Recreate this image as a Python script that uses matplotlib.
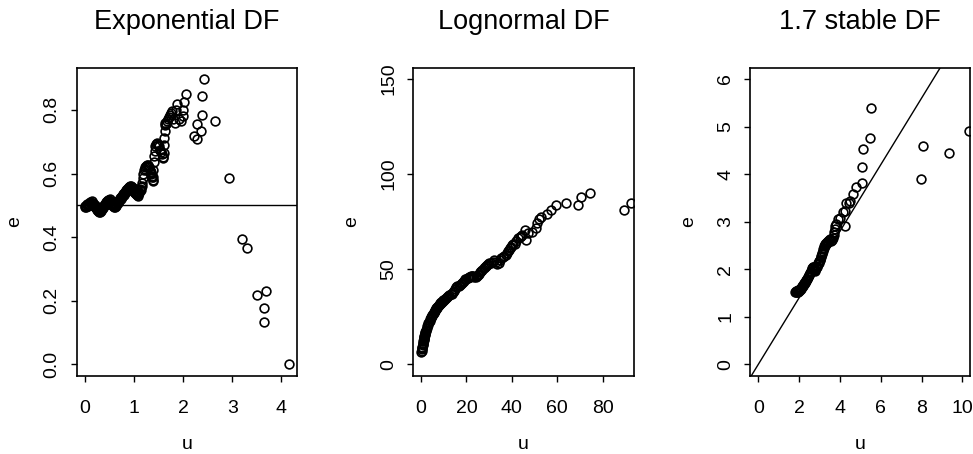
import matplotlib
matplotlib.use('Agg')
import matplotlib.pyplot as plt

plt.rcParams['font.family'] = ['Liberation Sans', 'DejaVu Sans']

# Exponential DF: mean excess points (u, e)
exp_u = [0.00, 0.01, 0.02, 0.03, 0.04, 0.05, 0.06, 0.07, 0.08, 0.09, 0.10,
         0.11, 0.12, 0.13, 0.14, 0.15, 0.16, 0.17, 0.18, 0.19, 0.20,
         0.21, 0.22, 0.23, 0.24, 0.25, 0.26, 0.27, 0.28, 0.29, 0.30,
         0.31, 0.32, 0.33, 0.34, 0.35, 0.36, 0.37, 0.38, 0.39, 0.40,
         0.41, 0.42, 0.43, 0.44, 0.45, 0.46, 0.47, 0.48, 0.49, 0.50,
         0.51, 0.52, 0.53, 0.54, 0.55, 0.56, 0.57, 0.58, 0.59, 0.60,
         0.61, 0.62, 0.63, 0.64, 0.65, 0.66, 0.67, 0.68, 0.69, 0.70,
         0.71, 0.72, 0.73, 0.74, 0.75, 0.76, 0.77, 0.78, 0.79, 0.80,
         0.81, 0.82, 0.83, 0.84, 0.85, 0.86, 0.87, 0.88, 0.89, 0.90,
         0.91, 0.92, 0.93, 0.94, 0.95, 0.96, 0.97, 0.98, 0.99, 1.00,
         1.01, 1.02, 1.03, 1.04, 1.05, 1.06, 1.07, 1.08, 1.09, 1.10,
         1.11, 1.12, 1.13, 1.14, 1.15, 1.16, 1.17, 1.18, 1.19, 1.20,
         1.215, 1.23, 1.245, 1.26, 1.275, 1.29, 1.305, 1.32, 1.335, 1.35,
         1.36, 1.37, 1.38, 1.385, 1.39, 1.395, 1.40, 1.41, 1.42, 1.43,
         1.44, 1.46, 1.48, 1.50, 1.52, 1.54, 1.56, 1.58, 1.59, 1.60,
         1.61, 1.615, 1.62, 1.63, 1.64, 1.66, 1.68, 1.70, 1.72, 1.74,
         1.76, 1.78, 1.80, 1.83, 1.85, 1.87, 1.92, 1.96, 1.99, 2.00,
         2.02, 2.05, 2.22, 2.29, 2.29, 2.37, 2.38, 2.39, 2.43, 2.65,
         2.93, 3.19, 3.30, 3.51, 3.69, 3.65, 3.65, 4.15]
exp_e = [0.495, 0.497, 0.499, 0.494, 0.500, 0.503, 0.498, 0.502, 0.505, 0.500, 0.507,
         0.510, 0.504, 0.508, 0.512, 0.506, 0.503, 0.508, 0.500, 0.497, 0.502,
         0.495, 0.490, 0.494, 0.487, 0.484, 0.489, 0.481, 0.485, 0.479, 0.483,
         0.478, 0.486, 0.482, 0.490, 0.487, 0.495, 0.492, 0.500, 0.497, 0.505,
         0.502, 0.510, 0.507, 0.513, 0.509, 0.516, 0.512, 0.518, 0.514, 0.519,
         0.513, 0.510, 0.505, 0.508, 0.501, 0.504, 0.497, 0.500, 0.495, 0.498,
         0.494, 0.499, 0.502, 0.498, 0.506, 0.510, 0.507, 0.514, 0.518, 0.515,
         0.521, 0.524, 0.520, 0.527, 0.530, 0.526, 0.533, 0.536, 0.532, 0.539,
         0.542, 0.538, 0.545, 0.548, 0.544, 0.551, 0.554, 0.550, 0.556, 0.559,
         0.555, 0.561, 0.558, 0.562, 0.557, 0.552, 0.548, 0.553, 0.545, 0.541,
         0.545, 0.538, 0.535, 0.540, 0.532, 0.536, 0.530, 0.534, 0.538, 0.543,
         0.540, 0.547, 0.551, 0.548, 0.556, 0.562, 0.570, 0.585, 0.600, 0.612,
         0.620, 0.615, 0.624, 0.628, 0.622, 0.626, 0.619, 0.612, 0.605, 0.598,
         0.592, 0.588, 0.578, 0.575, 0.590, 0.612, 0.635, 0.655, 0.672, 0.685,
         0.693, 0.697, 0.690, 0.686, 0.675, 0.668, 0.660, 0.652, 0.648, 0.665,
         0.690, 0.712, 0.735, 0.752, 0.760, 0.755, 0.765, 0.770, 0.778, 0.785,
         0.790, 0.797, 0.770, 0.758, 0.800, 0.818, 0.770, 0.765, 0.780, 0.800,
         0.826, 0.850, 0.718, 0.709, 0.755, 0.735, 0.783, 0.844, 0.897, 0.766,
         0.585, 0.394, 0.365, 0.217, 0.231, 0.177, 0.134, 0.000]

# Lognormal DF
log_u = [0.2, 0.3, 0.4, 0.5, 0.6, 0.7, 0.8, 0.9, 1.0, 1.1,
         1.2, 1.3, 1.4, 1.5, 1.6, 1.7, 1.8, 1.9, 2.0,
         2.25, 2.5, 2.75, 3.0, 3.25, 3.5, 3.75, 4.0, 4.25, 4.5,
         4.75, 5.0, 5.25, 5.5, 5.75, 6.0, 6.25, 6.5, 6.75, 7.0,
         7.25, 7.5, 7.75, 8.0, 8.25, 8.5, 8.75, 9.0, 9.25, 9.5,
         9.75, 10.0,
         10.5, 11.0, 11.5, 12.0, 12.5, 13.0, 13.5, 14.0, 14.5, 15.0,
         15.5, 16.0, 16.5, 17.0, 17.5, 18.0, 18.5, 19.0, 19.5, 20.0,
         20.5, 21.0, 21.5, 22.0, 22.5, 23.0, 23.5, 24.0, 24.5, 25.0,
         25.5, 26.0, 26.5, 27.0, 27.5, 28.0, 28.5, 29.0, 29.5, 30.0,
         30.8, 31.5, 32.2, 33.0, 33.6, 34.2, 34.7, 35.3, 36.0, 36.6,
         37.2, 37.7, 38.2, 38.6, 39.1, 39.6, 40.1, 40.6, 41.3, 42.0,
         42.8, 43.5, 44.2, 44.6, 45.7, 46.4, 47.0, 48.7, 50.5, 50.9,
         52.0, 53.0, 55.3, 57.1, 59.6, 63.6, 69.2, 70.5, 74.4, 89.5, 92.3]
log_e = [6.5, 7.2, 7.9, 8.6, 9.3, 10.0, 10.7, 11.3, 12.0, 12.6,
         13.2, 13.8, 14.3, 14.9, 15.4, 15.9, 16.4, 16.9, 17.3,
         18.2, 19.1, 19.9, 20.7, 21.5, 22.2, 22.9, 23.6, 24.2, 24.8,
         25.4, 26.0, 26.5, 27.0, 27.5, 28.0, 28.5, 29.0, 29.4, 29.8,
         30.2, 30.6, 31.0, 31.4, 31.8, 32.1, 32.4, 32.7, 33.0, 33.3,
         33.6, 33.9,
         34.4, 34.9, 35.4, 35.8, 36.2, 36.7, 37.2, 37.8, 38.6, 39.6,
         40.5, 41.0, 41.4, 41.9, 42.4, 42.9, 43.4, 44.0, 44.6, 45.1,
         45.5, 45.8, 46.0, 46.2, 46.3, 46.2, 46.0, 45.8, 46.2, 46.8,
         47.5, 48.4, 49.2, 49.8, 50.4, 51.0, 51.6, 52.1, 52.6, 53.0,
         53.5, 54.0, 54.6, 53.8, 52.5, 53.4, 54.8, 55.7, 56.3, 57.0,
         57.6, 58.3, 59.5, 60.3, 61.0, 61.8, 62.5, 63.0, 63.5, 64.6,
         66.2, 66.8, 67.5, 68.0, 70.6, 65.5, 69.0, 69.7, 71.5, 74.5,
         76.2, 77.6, 78.9, 81.1, 83.8, 84.6, 83.9, 88.1, 89.9, 81.1, 84.6]

# 1.7 stable DF
stab_u = [1.800, 1.825, 1.850, 1.875, 1.900, 1.925, 1.950, 1.975, 2.000, 2.025,
          2.050, 2.075, 2.100, 2.125, 2.150, 2.175, 2.200, 2.225, 2.250, 2.275,
          2.300, 2.325, 2.350, 2.375, 2.400, 2.425, 2.450, 2.475, 2.500, 2.525,
          2.550, 2.575, 2.600, 2.625, 2.650, 2.675, 2.700, 2.725, 2.750, 2.775,
          2.800, 2.825, 2.850, 2.875, 2.900, 2.925, 2.950, 2.975, 3.000, 3.025,
          3.050, 3.075, 3.100, 3.125, 3.150, 3.175, 3.200, 3.225, 3.250, 3.275,
          3.300, 3.325, 3.350, 3.375, 3.400,
          3.45, 3.50, 3.55, 3.60, 3.65, 3.70, 3.72, 3.75, 3.78, 3.82,
          3.88, 4.01, 4.17, 4.26, 4.26, 4.29, 4.42, 4.50, 4.63, 4.78,
          5.08, 5.09, 5.15, 5.48, 5.52, 7.95, 8.05, 9.33, 10.33]
stab_e = [1.52, 1.55, 1.51, 1.54, 1.52, 1.56, 1.53, 1.57, 1.54, 1.58,
          1.56, 1.61, 1.59, 1.64, 1.62, 1.67, 1.65, 1.70, 1.69, 1.74,
          1.72, 1.77, 1.76, 1.80, 1.79, 1.84, 1.83, 1.88, 1.87, 1.92,
          1.91, 1.96, 1.95, 2.00, 2.02, 2.05, 2.04, 2.01, 1.98, 1.97,
          1.99, 2.02, 2.06, 2.05, 2.10, 2.13, 2.12, 2.17, 2.20, 2.19,
          2.25, 2.28, 2.31, 2.35, 2.38, 2.42, 2.45, 2.48, 2.50, 2.52,
          2.53, 2.55, 2.56, 2.58, 2.59,
          2.61, 2.63, 2.60, 2.62, 2.66, 2.72, 2.78, 2.84, 2.90, 2.96,
          3.06, 3.07, 3.21, 3.23, 2.91, 3.39, 3.39, 3.43, 3.58, 3.72,
          3.81, 4.14, 4.52, 4.77, 5.40, 3.90, 4.59, 4.45, 4.91]

panels = [
    ('Exponential DF', exp_u, exp_e, (-0.169, 4.32), (-0.036, 0.933),
     [0, 1, 2, 3, 4], [0.0, 0.2, 0.4, 0.6, 0.8], ['0.0', '0.2', '0.4', '0.6', '0.8']),
    ('Lognormal DF', log_u, log_e, (-3.38, 93.6), (-6.0, 156.0),
     [0, 20, 40, 60, 80], [0, 50, 100, 150], ['0', '50', '100', '150']),
    ('1.7 stable DF', stab_u, stab_e, (-0.41, 10.39), (-0.24, 6.24),
     [0, 2, 4, 6, 8, 10], [0, 1, 2, 3, 4, 5, 6], ['0', '1', '2', '3', '4', '5', '6']),
]
lefts = [0.0788, 0.4248, 0.7708]

fig = plt.figure(figsize=(9.73, 4.54), dpi=100)
axes = []
for (title, u, e, xl, yl, xt, yt, ytl), left in zip(panels, lefts):
    ax = fig.add_axes([left, 0.1725, 0.2265, 0.6785])
    ax.plot(u, e, 'o', mfc='none', mec='black', ms=6.3, mew=1.2)
    ax.set_xlim(xl)
    ax.set_ylim(yl)
    ax.set_xticks(xt)
    ax.set_xticklabels([str(v) for v in xt])
    ax.set_yticks(yt)
    ax.set_yticklabels(ytl, rotation=90, va='center')
    ax.tick_params(axis='both', direction='out', length=4.5, width=1.0, labelsize=14)
    ax.tick_params(axis='x', pad=13)
    ax.tick_params(axis='y', pad=7)
    for s in ax.spines.values():
        s.set_linewidth(1.2)
    ax.set_xlabel('u', fontsize=14, va='center')
    ax.xaxis.set_label_coords(0.5, -0.222)
    ax.set_ylabel('e', fontsize=14, va='center')
    ax.yaxis.set_label_coords(-0.28, 0.5)
    ax.text(0.5, 1.1247, title, transform=ax.transAxes, ha='center',
            va='baseline', fontsize=19.5)
    axes.append(ax)

axes[0].axhline(0.5, color='black', lw=1.0)
axes[2].axline((0, 0), slope=0.7, color='black', lw=1.0)

fig.savefig('out.png', dpi=100)
